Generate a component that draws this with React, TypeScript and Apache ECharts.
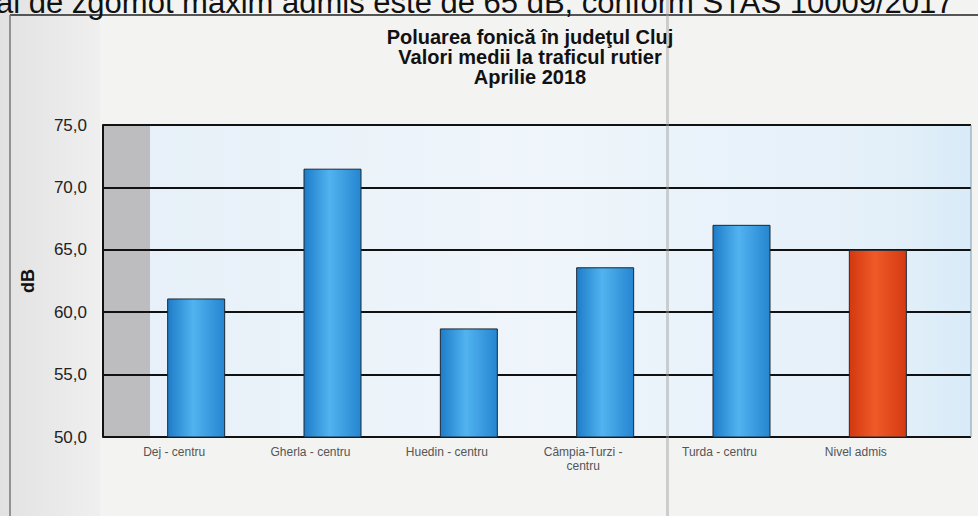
import React, { useEffect, useRef } from "react";
import * as echarts from "echarts";

const categories = ["Dej - centru", "Gherla - centru", "Huedin - centru", "Câmpia-Turzi -\ncentru", "Turda - centru", "Nivel admis"];
const values = [61.1, 71.5, 58.7, 63.6, 67.0, 65.0];
const yTicks = [50, 55, 60, 65, 70, 75];
const titleLines = ["Poluarea fonică în judeţul Cluj", "Valori medii la traficul rutier", "Aprilie 2018"];
const topText = "al de zgomot maxim admis este de 65 dB, conform STAS 10009/2017";

const FONT = "'Liberation Sans', Arial, sans-serif";

export default function App() {
  const ref = useRef<HTMLDivElement>(null);
  useEffect(() => {
    document.body.style.margin = "0";
    const chart = echarts.init(ref.current!, undefined, { renderer: "svg" });
    const blue = new echarts.graphic.LinearGradient(0, 0, 1, 0, [
      { offset: 0, color: "#1d7cc8" },
      { offset: 0.45, color: "#52b3f0" },
      { offset: 1, color: "#2585d0" },
    ]);
    const red = new echarts.graphic.LinearGradient(0, 0, 1, 0, [
      { offset: 0, color: "#d3380f" },
      { offset: 0.45, color: "#ef5a28" },
      { offset: 1, color: "#d53a12" },
    ]);
    chart.setOption({
      animation: false,
      title: {
        text: titleLines.join("\n"),
        left: 525,
        top: 22,
        textAlign: "center",
        textStyle: { fontFamily: FONT, fontSize: 20, fontWeight: "bold", color: "#111", lineHeight: 20 },
      },
      graphic: [
        { type: "rect", z: -20, shape: { x: 0, y: 0, width: 978, height: 516 }, style: { fill: "#f3f3f2" } },
        {
          type: "rect", z: -19, shape: { x: 0, y: 0, width: 100, height: 516 },
          style: { fill: new echarts.graphic.LinearGradient(0, 0, 1, 0, [
            { offset: 0, color: "#e2e2e2" }, { offset: 1, color: "#efefef" },
          ]) },
        },
        {
          type: "rect", z: -18, shape: { x: 103, y: 125, width: 868, height: 312 },
          style: { fill: new echarts.graphic.LinearGradient(0, 0, 1, 0, [
            { offset: 0, color: "#e6f0f8" },
            { offset: 0.5, color: "#eff5fb" },
            { offset: 0.9, color: "#e4f0f9" },
            { offset: 1, color: "#d8ebf8" },
          ]) },
        },
        { type: "rect", z: -17, shape: { x: 104, y: 125, width: 46, height: 312 }, style: { fill: "#bdbdc0" } },
        { type: "line", z: 5, shape: { x1: 971, y1: 125, x2: 971, y2: 437 }, style: { stroke: "#8a9aa6", lineWidth: 1 } },
        { type: "line", z: 5, shape: { x1: 10, y1: 15, x2: 978, y2: 15 }, style: { stroke: "#555", lineWidth: 2 } },
        { type: "line", z: 5, shape: { x1: 10, y1: 15, x2: 10, y2: 516 }, style: { stroke: "#777", lineWidth: 1.5 } },
        {
          type: "text", z: 5, x: -4, y: 2,
          style: { text: topText, font: `31px ${FONT}`, fill: "#111", verticalAlign: "middle", align: "left" },
        },
        { type: "rect", z: 100, shape: { x: 666, y: 0, width: 3, height: 516 }, style: { fill: "rgba(160,160,160,0.45)" } },
      ],
      grid: [
        { left: 103, right: 7, top: 125, bottom: 79 },
        { left: 128, right: 32, top: 125, bottom: 79 },
      ],
      xAxis: [
        { type: "value", gridIndex: 0, min: 0, max: 1, show: false },
        {
          type: "category", gridIndex: 1, data: categories,
          axisLine: { show: false }, axisTick: { show: false },
          axisLabel: { fontFamily: FONT, fontSize: 12, color: "#555", margin: 8, padding: [0, 44, 0, 0], lineHeight: 14, interval: 0 },
        },
      ],
      yAxis: [
        {
          type: "value", gridIndex: 0, min: 50, max: 75, interval: 5,
          name: "dB", nameLocation: "middle", nameGap: 66, nameRotate: 90,
          nameTextStyle: { fontFamily: FONT, fontSize: 18, fontWeight: "bold", color: "#111" },
          axisLine: { show: true, lineStyle: { color: "#111", width: 2 } },
          axisTick: { show: false },
          axisLabel: {
            fontFamily: FONT, fontSize: 17, color: "#222", margin: 16,
            formatter: (v: number) => (yTicks.includes(v) ? v.toFixed(1).replace(".", ",") : ""),
          },
          splitLine: { show: true, lineStyle: { color: "#111", width: 2 } },
        },
        { type: "value", gridIndex: 1, min: 50, max: 75, interval: 5, show: false, splitLine: { show: false } },
      ],
      series: [
        {
          type: "bar", xAxisIndex: 1, yAxisIndex: 1, barWidth: 58,
          data: values.map((v, i) => ({
            value: v,
            itemStyle: { color: i === values.length - 1 ? red : blue, borderColor: "#1c2833", borderWidth: 1 },
          })),
        },
      ],
    });
    return () => chart.dispose();
  }, []);
  return <div ref={ref} style={{ position: "absolute", left: 0, top: 0, width: 978, height: 516 }} />;
}
